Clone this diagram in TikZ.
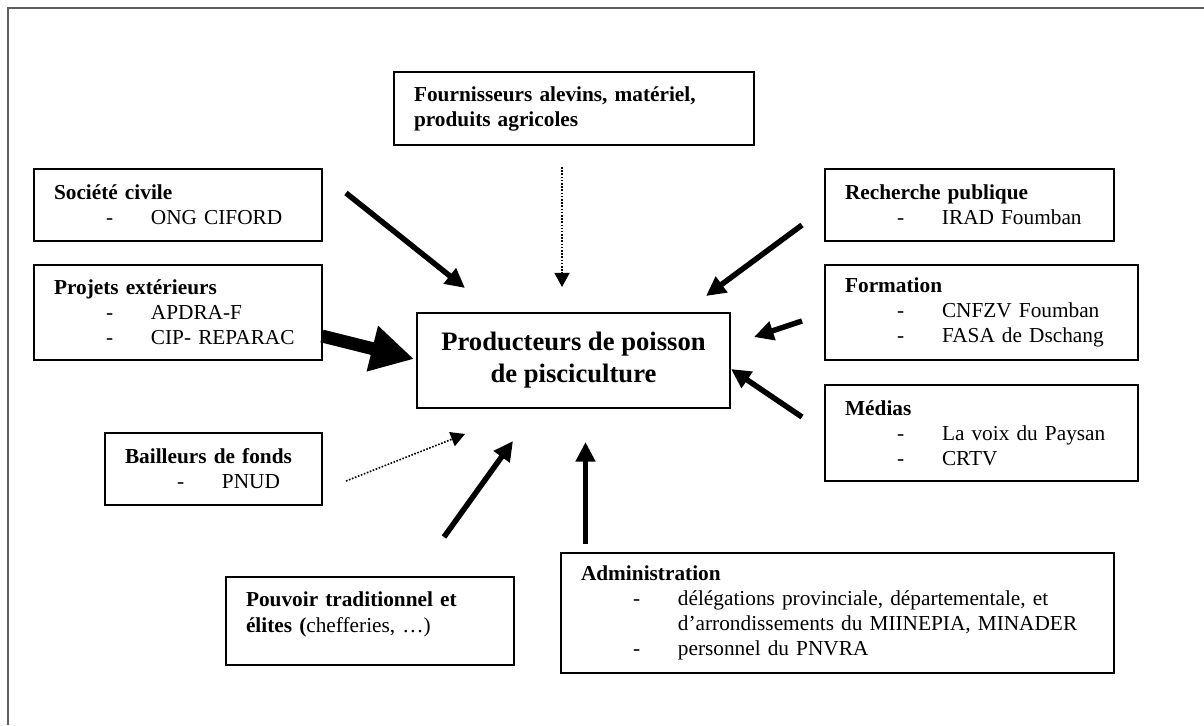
\documentclass[tikz,border=0pt]{standalone}
\usepackage{fontspec}
\setmainfont{Liberation Serif}
\usetikzlibrary{arrows.meta}
\definecolor{framegray}{RGB}{95,95,95}
\newcommand{\itm}[1]{\mbox{\hspace*{29.3pt}\makebox[25.3pt][l]{-}#1}}
\newcommand{\cont}[1]{\mbox{\hspace*{54.6pt}#1}}
\tikzset{
  box/.style={draw, line width=1.1pt, inner xsep=11.3pt, inner ysep=0pt, align=left,
    font=\fontsize{12}{14.1}\selectfont},
  thickarrow/.style={line width=3.1pt, -{Triangle[length=11pt,width=10.6pt]}},
  dotarrow/.style={line width=0.9pt, dash pattern=on 0.9pt off 0.9pt, -{Triangle[length=7.9pt,width=8.4pt]}},
  bigarrow/.style={line width=7.3pt, -{Triangle[length=24.2pt,width=24.8pt]}},
}
\begin{document}
\begin{tikzpicture}[x=0.5634pt, y=-0.5634pt]
\useasboundingbox (0,0) rectangle (1204,725);
\draw[framegray, line width=1.2pt] (8,725) -- (8,8) -- (1204,8);

% boxes
\node[box, minimum width=202.8pt, minimum height=41.1pt, text width=180.2pt] (four) at (574,108.5)
  {\textbf{Fournisseurs alevins, matériel,}\\\textbf{produits agricoles}};
\node[box, minimum width=162.3pt, minimum height=40.6pt, text width=139.7pt] (soc) at (178,205)
  {\textbf{Société civile}\\\itm{ONG CIFORD}};
\node[box, minimum width=162.3pt, minimum height=53.5pt, text width=139.7pt] (proj) at (178,312.5)
  {\textbf{Projets extérieurs}\\\itm{APDRA-F}\\\itm{CIP- REPARAC}};
\node[draw, line width=1.1pt, minimum width=176.3pt, minimum height=53.5pt, align=center,
  font=\fontsize{15}{18}\selectfont\bfseries] (main) at (573.5,360.5)
  {Producteurs de poisson\\de pisciculture};
\node[box, minimum width=162.8pt, minimum height=40.6pt, text width=140.2pt] (rech) at (969.5,205)
  {\textbf{Recherche publique}\\\itm{IRAD Foumban}};
\node[box, minimum width=176.3pt, minimum height=53.5pt, text width=153.7pt] (form) at (981.5,312.5)
  {\textbf{Formation}\\\itm{CNFZV Foumban}\\\itm{FASA de Dschang}};
\node[box, minimum width=176.3pt, minimum height=54.1pt, text width=153.7pt] (med) at (981.5,433)
  {\textbf{Médias}\\\itm{La voix du Paysan}\\\itm{CRTV}};
\node[box, minimum width=122.3pt, minimum height=40.6pt, text width=99.7pt] (bail) at (213.5,469)
  {\textbf{Bailleurs de fonds}\\\itm{PNUD}};
\node[box, minimum width=162.3pt, minimum height=49.6pt, text width=139.7pt] (pouv) at (370,621)
  {\textbf{Pouvoir traditionnel et}\\[1pt]\textbf{élites (}chefferies, …)\\[-4pt]\mbox{}};
\node[box, minimum width=311.6pt, minimum height=67.6pt, text width=289pt] (admin) at (837.5,613)
  {\textbf{Administration}\\\itm{délégations provinciale, départementale, et}\\\cont{d’arrondissements du MIINEPIA, MINADER}\\\itm{personnel du PNVRA}};

% arrow end points
\coordinate (socS) at (346,193);   \coordinate (socE) at (465,288);
\coordinate (fourS) at (562,167);  \coordinate (fourE) at (562,287);
\coordinate (projS) at (322,336);  \coordinate (projE) at (414,359);
\coordinate (rechS) at (802,225);  \coordinate (rechE) at (706,296);
\coordinate (formS) at (802,321);  \coordinate (formE) at (754,337);
\coordinate (medS) at (802,417);   \coordinate (medE) at (731,369);
\coordinate (bailS) at (346,481);  \coordinate (bailE) at (465,434);
\coordinate (pouvS) at (444,537);  \coordinate (pouvE) at (513,441);
\coordinate (adminS) at (585.5,544); \coordinate (adminE) at (585.5,442);

\draw[thickarrow] (socS) -- (socE);
\draw[dotarrow] (fourS) -- (fourE);
\draw[bigarrow] (projS) -- (projE);
\draw[thickarrow] (rechS) -- (rechE);
\draw[thickarrow] (formS) -- (formE);
\draw[thickarrow] (medS) -- (medE);
\draw[dotarrow] (bailS) -- (bailE);
\draw[thickarrow] (pouvS) -- (pouvE);
\draw[thickarrow] (adminS) -- (adminE);
\end{tikzpicture}
\end{document}
